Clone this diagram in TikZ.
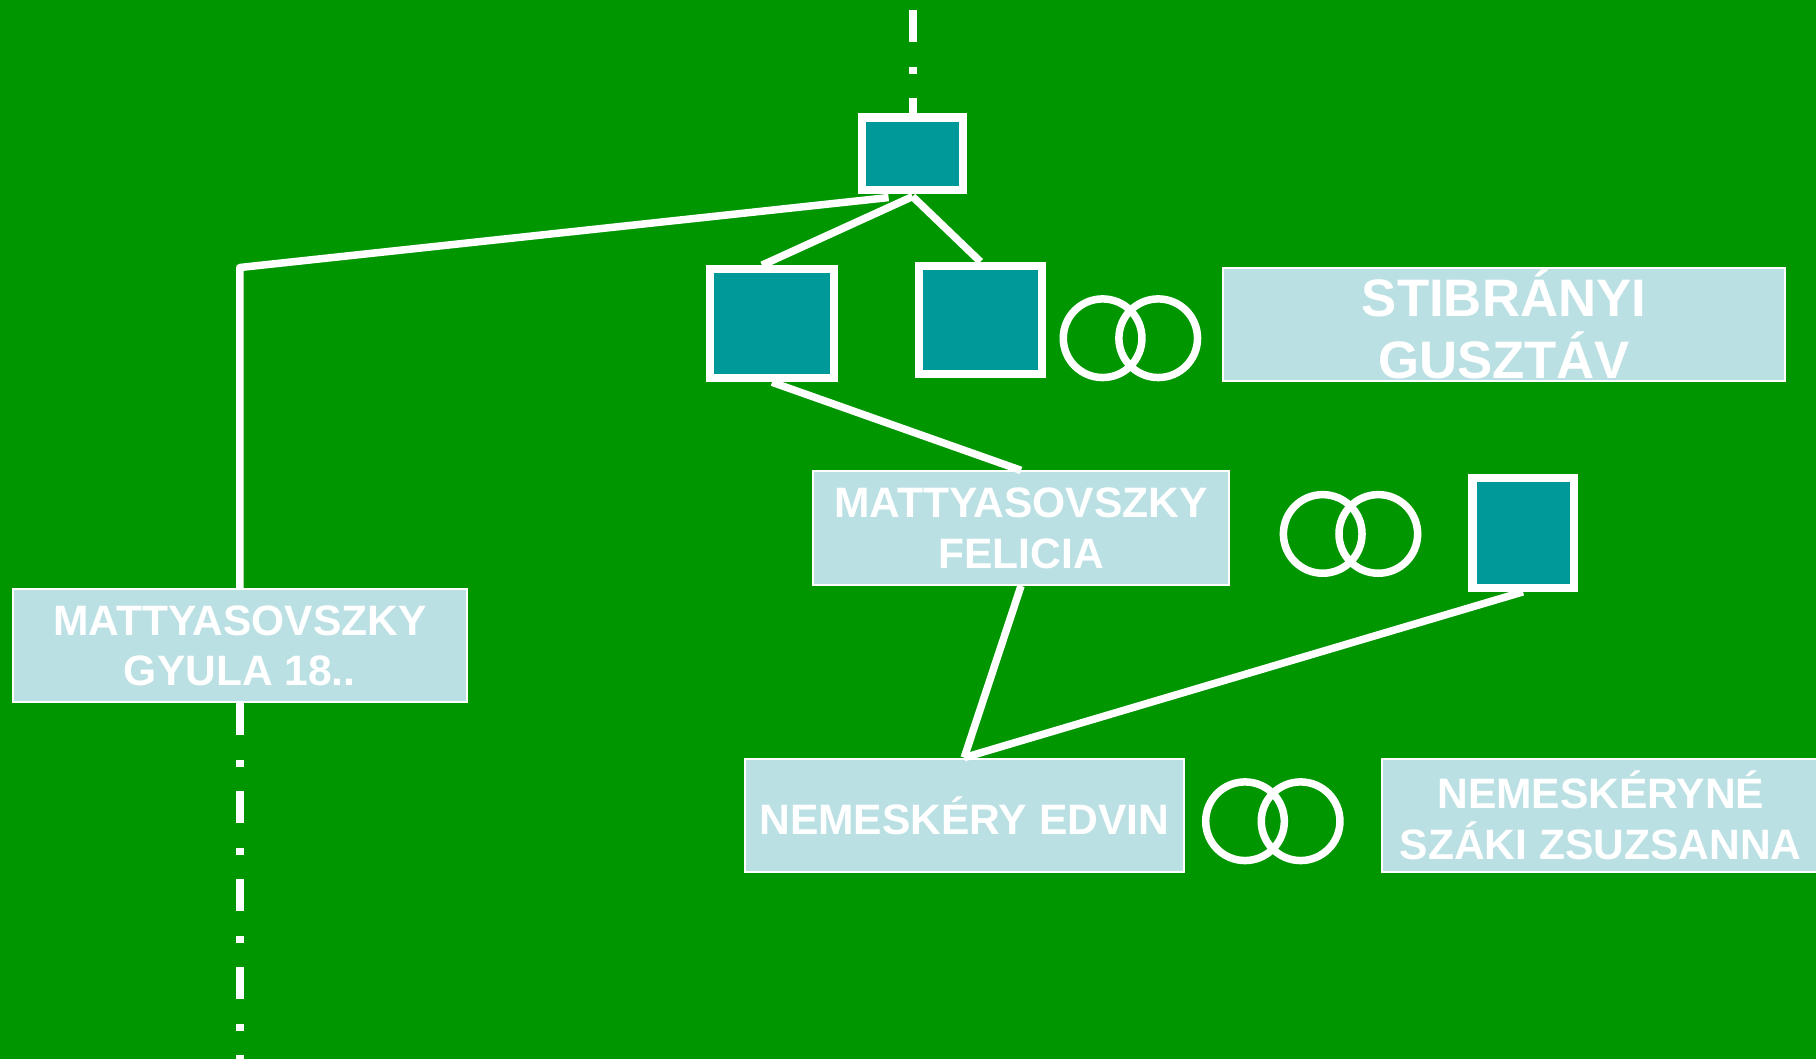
\documentclass[tikz,border=0pt]{standalone}
\usepackage{fontspec}
\setmainfont{Liberation Sans}
\usepackage{xcolor}
\usetikzlibrary{positioning}
\definecolor{famgreen}{RGB}{0,150,0}
\definecolor{famteal}{RGB}{0,153,153}
\definecolor{famlight}{RGB}{187,224,227}

\begin{document}
\begin{tikzpicture}[x=0.01cm, y=-0.01cm,
    unknown/.style={draw=white, fill=famteal, line width=0.08cm, inner sep=0pt},
    namebox/.style={draw=white, fill=famlight, line width=0.02cm, inner sep=0pt,
        align=center, text=white, font=\fontsize{12.1}{14.4}\selectfont\bfseries},
    link/.style={white, line width=0.075cm},
    lineage/.style={white, line width=0.08cm, dash pattern=on 0.32cm off 0.25cm on 0.07cm off 0.24cm}]
    \fill[famgreen] (0,0) rectangle (1816,1059);
    \useasboundingbox (0,0) rectangle (1816,1059);
    % unknown persons
    \node[unknown, minimum width=1.01cm, minimum height=0.72cm] (root) at (912.6,153.5) {};
    \node[unknown, minimum width=1.23cm, minimum height=1.09cm] (sibA) at (772,323.7) {};
    \node[unknown, minimum width=1.23cm, minimum height=1.08cm] (sibB) at (980.4,319.7) {};
    \node[unknown, minimum width=1.01cm, minimum height=1.10cm] (felhusb) at (1523,532.8) {};
    % named persons
    \node[namebox, minimum width=5.62cm, minimum height=1.135cm,
        font=\fontsize{15}{17.6}\selectfont\bfseries] (stibranyi) at (1504,324.3) {STIBRÁNYI\\GUSZTÁV};
    \node[namebox, minimum width=4.16cm, minimum height=1.135cm] (felicia) at (1021,528.1) {MATTYASOVSZKY\\FELICIA};
    \node[namebox, minimum width=4.54cm, minimum height=1.124cm] (gyula) at (239.8,645.7) {MATTYASOVSZKY\\GYULA 18..};
    \node[namebox, minimum width=4.39cm, minimum height=1.135cm] (edvin) at (964.2,815.4) {NEMESKÉRY EDVIN};
    \node[namebox, minimum width=4.38cm, minimum height=1.135cm] (zsuzsa) at (1600.8,815.4) {NEMESKÉRYNÉ\\SZÁKI ZSUZSANNA};
    % marriage rings
    \foreach \cx/\cy in {1102.6/338.2, 1322.7/533.9, 1245/821.2} {
        \draw[white, line width=0.075cm] (\cx,\cy) circle (0.393cm);
        \draw[white, line width=0.075cm] (\cx+55.6,\cy) circle (0.393cm);
    }
    % descent lines
    \coordinate (topend) at (912.6,0);
    \coordinate (gbend) at (239.8,267.5);
    \coordinate (botend) at (239.8,1059);
    \draw[lineage, dash phase=0.78cm] (topend) -- (root.north);
    \draw[link, line join=round] ([xshift=-0.24cm, yshift=-0.04cm]root.south) -- (gbend) -- (gyula.north);
    \draw[link] ([yshift=-0.03cm]root.south) -- ([xshift=-0.1cm]sibA.north);
    \draw[link] ([yshift=-0.03cm]root.south) -- (sibB.north);
    \draw[link] (sibA.south) -- (felicia.north);
    \draw[link] (felicia.south) -- (edvin.north);
    \draw[link] (felhusb.south) -- (edvin.north);
    \draw[lineage] (gyula.south) -- (botend);
\end{tikzpicture}
\end{document}
